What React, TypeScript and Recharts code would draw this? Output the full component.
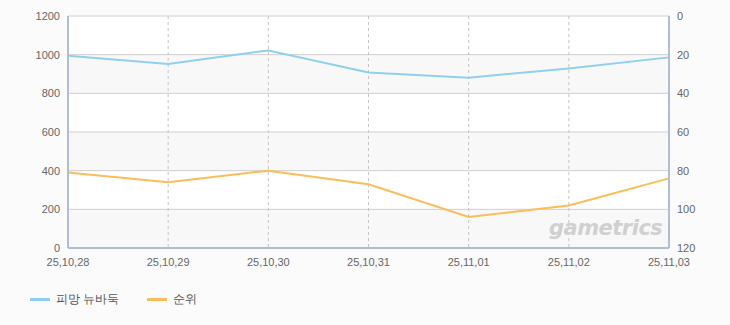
import React from 'react';
import { LineChart, Line, XAxis, YAxis, CartesianGrid } from 'recharts';

const dates = ['25,10,28', '25,10,29', '25,10,30', '25,10,31', '25,11,01', '25,11,02', '25,11,03'];
const users = [995, 952, 1022, 908, 881, 929, 986];
const ranks = [81, 86, 80, 87, 104, 98, 84];
const leftTicks = [0, 200, 400, 600, 800, 1000, 1200];
const rightTicks = [0, 20, 40, 60, 80, 100, 120];
const seriesNames = ['피망 뉴바둑', '순위'];

const data = dates.map((d, i) => ({ date: d, users: users[i], rank: ranks[i] }));

const FONT = '"Liberation Sans", Arial, sans-serif';
const AXIS = '#aebfd1';
const tickStyle = { fontSize: 11, fill: '#666', fontFamily: FONT };

export default function App() {
  return (
    <div style={{ position: 'absolute', left: 0, top: 0, width: 730, height: 325, background: '#fbfbfb', fontFamily: FONT }}>
      <LineChart width={730} height={280} data={data} margin={{ top: 16, right: 0, bottom: 0, left: 0 }}>
        <CartesianGrid
          stroke="#cfcfcf"
          horizontal={true}
          vertical={false}
          horizontalFill={['#ffffff', '#f8f8f8']}
          fillOpacity={1}
          yAxisId="left"
        />
        <CartesianGrid
          stroke="#c4c4c4"
          strokeDasharray="3 3"
          horizontal={false}
          vertical={true}
          yAxisId="left"
        />
        <XAxis
          dataKey="date"
          tick={tickStyle}
          tickLine={false}
          axisLine={{ stroke: AXIS, strokeWidth: 2 }}
          interval={0}
          height={32}
          tickMargin={4}
        />
        <XAxis
          xAxisId="top"
          orientation="top"
          dataKey="date"
          tick={false}
          tickLine={false}
          axisLine={{ stroke: AXIS, strokeWidth: 2 }}
          height={0}
        />
        <YAxis
          yAxisId="left"
          domain={[0, 1200]}
          ticks={leftTicks}
          tick={tickStyle}
          tickLine={false}
          axisLine={{ stroke: AXIS, strokeWidth: 2 }}
          width={68}
          tickMargin={2}
          interval={0}
        />
        <YAxis
          yAxisId="right"
          orientation="right"
          domain={[0, 120]}
          reversed
          ticks={rightTicks}
          tick={tickStyle}
          tickLine={false}
          axisLine={{ stroke: AXIS, strokeWidth: 2 }}
          width={61}
          tickMargin={2}
          interval={0}
        />
        <Line yAxisId="left" type="linear" dataKey="users" name={seriesNames[0]} stroke="#8fd0ef" strokeWidth={2} dot={false} activeDot={false} isAnimationActive={false} />
        <Line yAxisId="right" type="linear" dataKey="rank" name={seriesNames[1]} stroke="#fbbd58" strokeWidth={2} dot={false} activeDot={false} isAnimationActive={false} />
      </LineChart>
      <div style={{ position: 'absolute', left: 549, top: 216, fontSize: 21, fontWeight: 'bold', fontStyle: 'italic', color: '#d0d0d0', letterSpacing: -0.5, fontFamily: '"DejaVu Sans", sans-serif', lineHeight: '24px' }}>
        gametrics
      </div>
      <div style={{ position: 'absolute', left: 30, top: 291, display: 'flex', alignItems: 'center', fontSize: 12, color: '#555' }}>
        <span style={{ display: 'inline-block', width: 20, height: 3, background: '#8fd0ef', marginRight: 6 }} />
        <span style={{ marginRight: 28 }}>{seriesNames[0]}</span>
        <span style={{ display: 'inline-block', width: 20, height: 3, background: '#fbbd58', marginRight: 6 }} />
        <span>{seriesNames[1]}</span>
      </div>
    </div>
  );
}
